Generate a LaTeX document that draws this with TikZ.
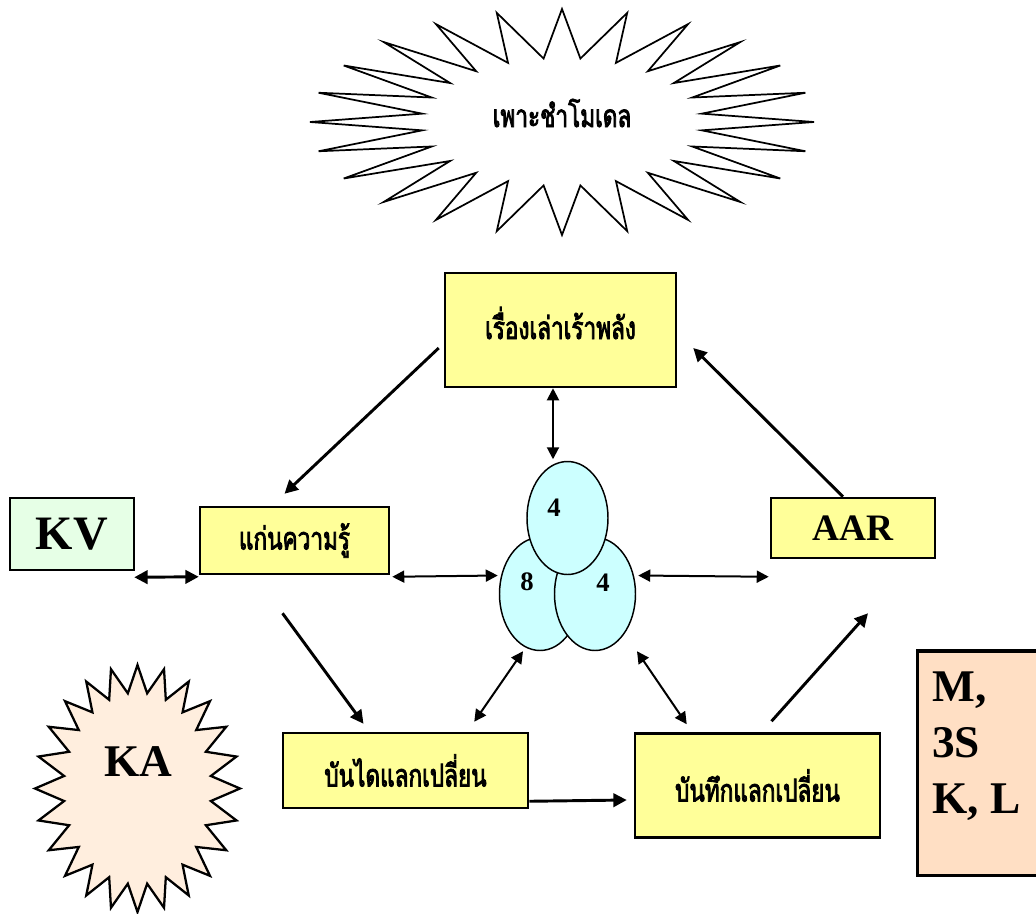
\documentclass[tikz,border=0pt]{standalone}
\usepackage{fontspec}
\setmainfont{Liberation Serif}
\newfontfamily\thaifont[Script=Thai, FakeStretch=0.72, FakeBold=2.5]{Loma}
\usetikzlibrary{arrows.meta,calc,shapes.geometric}

\definecolor{boxyellow}{HTML}{FFFF99}
\definecolor{kvgreen}{HTML}{E6FFE6}
\definecolor{petalcyan}{HTML}{CCFFFF}
\definecolor{kapeach}{HTML}{FFEEDE}
\definecolor{mpeach}{HTML}{FFDFC4}

\begin{document}
\begin{tikzpicture}[x=0.75pt,y=-0.75pt,
  thai/.style={font=\thaifont\fontsize{23.5}{26}\selectfont},
  box/.style={draw, line width=1.9pt, fill=boxyellow, inner sep=0pt},
  petal/.style={ellipse, draw, line width=1.1pt, fill=petalcyan, inner sep=0pt,
    minimum width=60.75pt, minimum height=84.75pt},
  digit/.style={font=\bfseries\fontsize{20}{22}\selectfont, inner sep=0pt},
  flow/.style={line width=2.2pt, -{Triangle[length=10pt,width=10pt]}},
  link/.style={line width=1.5pt, {Triangle[length=9pt,width=9pt]}-{Triangle[length=9pt,width=9pt]}},
  thicklink/.style={line width=2.2pt, {Triangle[length=10pt,width=10pt]}-{Triangle[length=10pt,width=10pt]}},
  starline/.style={draw, line width=1.3pt, line join=miter}
]
\useasboundingbox (0,0) rectangle (1036,914);

% title starburst
\draw[starline, fill=white, shift={(562,122)}]
  (0:252 and 113)
  \foreach \k in {0,...,22} { -- ({\k*15+7.5}:141 and 64) -- ({\k*15+15}:252 and 113) }
  -- (352.5:141 and 64) -- cycle;
\node[thai] (title) at (562,113) {เพาะชำโมเดล};

% KA starburst
\draw[starline, line width=1.7pt, fill=kapeach, shift={(137.5,788.5)}]
  (0:102.5 and 123.5)
  \foreach \k in {0,...,22} { -- ({\k*15+7.5}:74 and 96) -- ({\k*15+15}:102.5 and 123.5) }
  -- (352.5:74 and 96) -- cycle;
\node[font=\bfseries\fontsize{34}{36}\selectfont, inner sep=0pt] (ka) at (138,762) {KA};

% boxes
\node[box, minimum width=173.25pt, minimum height=85.5pt] (story) at (560.5,330) {};
\node[thai] at (560.5,323) {เรื่องเล่าเร้าพลัง};
\node[box, thai, minimum width=141.75pt, minimum height=50.25pt] (core) at (294.5,540.5) {แก่นความรู้};
\node[box, fill=kvgreen, minimum width=93pt, minimum height=54pt,
  font=\bfseries\fontsize{36}{38}\selectfont] (kv) at (72,534) {KV};
\node[box, minimum width=123pt, minimum height=45pt,
  font=\bfseries\fontsize{28}{30}\selectfont] (aar) at (853,528) {AAR};
\node[box, thai, minimum width=183.75pt, minimum height=56.25pt] (ladder) at (405.5,770.5) {บันไดแลกเปลี่ยน};
\node[box, thai, minimum width=183.75pt, minimum height=78pt] (record) at (757.5,785.5) {บันทึกแลกเปลี่ยน};

% M, 3S, K, L panel
\draw[line width=2.4pt, fill=mpeach] (917.5,651) rectangle (1050,875.5);
\node[anchor=base west, inner sep=0pt, align=left,
  font=\bfseries\fontsize{34}{42}\selectfont] (mks) at (932,813) {M,\\3S\\K, L};

% three petals
\node[petal] (eL) at (540,594) {};
\node[petal] (eR) at (595,594) {};
\node[petal] (eT) at (567.5,518) {};
\node[digit] (d1) at (554,508) {4};
\node[digit] (d2) at (527,582) {8};
\node[digit] (d3) at (603,583) {4};

% connectors
\draw[flow] ($(story.west)+(-5,18)$) -- ($(core.north)+(-10,-12)$);
\draw[flow] ($(aar.north)+(-10,0)$) -- ($(story.east)+(16,18)$);
\draw[link] ($(story.south)+(-7.5,0)$) -- ($(eT.north)+(-14.5,-1.5)$);
\draw[thicklink] ($(kv.south east)+(-1,6)$) -- ($(core.south west)+(0,1.5)$);
\draw[link] ($(core.south east)+(2,1.5)$) -- ($(eL.west)+(-1,-18.5)$);
\draw[link] ($(eR.east)+(2,-18.5)$) -- ($(aar.south west)+(-1,17.5)$);
\draw[flow] ($(core.south)+(-12,38)$) -- ($(ladder.north)+(-42,-8)$);
\draw[link] ($(eL.south)+(-17,0)$) -- ($(ladder.north east)+(-55,-10)$);
\draw[link] ($(eR.south)+(42,0)$) -- ($(record.north west)+(53,-8)$);
\draw[flow] ($(ladder.south east)+(0,-8)$) -- ($(record.west)+(-7,14.5)$);
\draw[flow] ($(record.north)+(14,-11)$) -- ($(aar.south)+(15,54)$);
\end{tikzpicture}
\end{document}
